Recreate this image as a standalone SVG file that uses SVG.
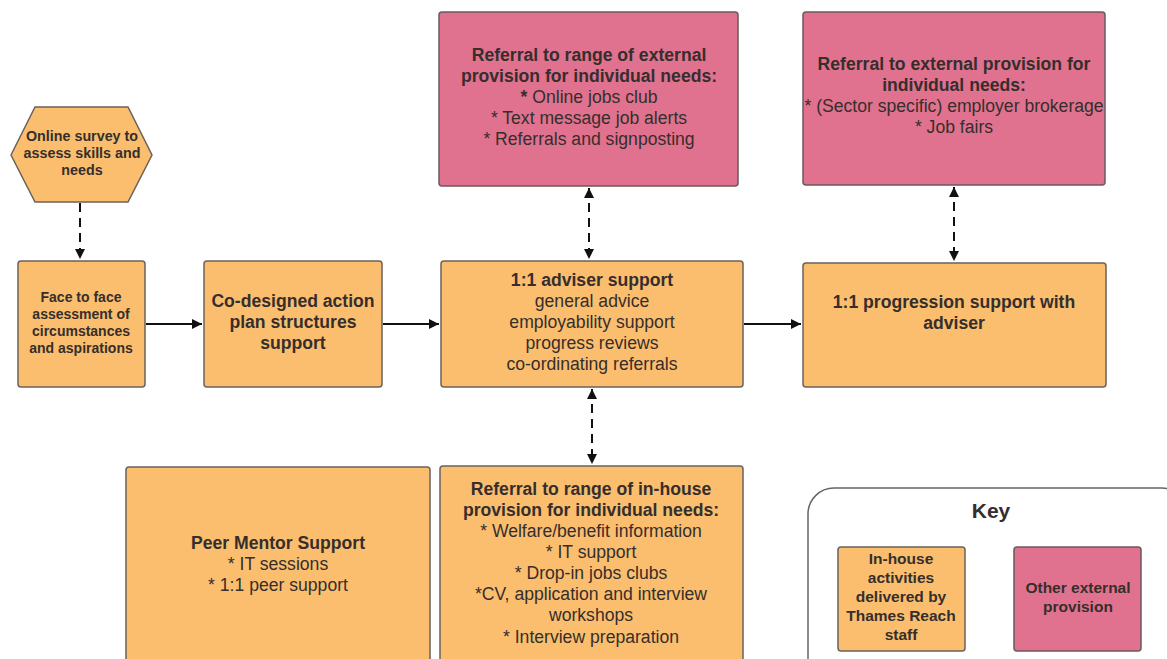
<svg xmlns="http://www.w3.org/2000/svg" width="1167" height="659" viewBox="0 0 1167 659">
<defs>
<style>
.or{fill:#FBBE6E;stroke:#6b6259;stroke-width:1.5}
.pk{fill:#E1728F;stroke:#6b5a5e;stroke-width:1.5}
text{font-family:"Liberation Sans",Arial,sans-serif;fill:#352e2c;text-anchor:middle}
.b{font-weight:bold}
.c{stroke:#111;stroke-width:2;fill:none}
.d{stroke-dasharray:9,6}
</style>
<marker id="ah2" viewBox="0 0 10 10" refX="10" refY="5" markerWidth="14" markerHeight="10" markerUnits="userSpaceOnUse" orient="auto-start-reverse">
<path d="M0,0 L10,5 L0,10 z" fill="#111"/>
</marker>
</defs>
<rect width="1167" height="659" fill="#fff"/>
<g id="connectors">
<line class="c d" x1="80" y1="203" x2="80" y2="259" marker-end="url(#ah2)"/>
<line class="c" x1="146" y1="324" x2="202" y2="324" marker-end="url(#ah2)"/>
<line class="c" x1="383" y1="324" x2="439" y2="324" marker-end="url(#ah2)"/>
<line class="c" x1="744" y1="324" x2="801" y2="324" marker-end="url(#ah2)"/>
<line class="c d" x1="589" y1="188" x2="589" y2="259" marker-start="url(#ah2)" marker-end="url(#ah2)"/>
<line class="c d" x1="954" y1="187" x2="954" y2="261" marker-start="url(#ah2)" marker-end="url(#ah2)"/>
<line class="c d" x1="592" y1="389" x2="592" y2="464" marker-start="url(#ah2)" marker-end="url(#ah2)"/>
</g>
<g id="survey">
<polygon class="or" points="11,155 35,107 128,107 152,155 128,202 35,202"/>
<text class="b" font-size="14.3"><tspan x="82" y="141">Online survey to</tspan><tspan x="82" y="158">assess skills and</tspan><tspan x="82" y="175">needs</tspan></text>
</g>
<g id="face">
<rect class="or" x="18" y="261" width="127" height="126" rx="3"/>
<text class="b" font-size="14"><tspan x="81" y="302">Face to face</tspan><tspan x="81" y="319">assessment of</tspan><tspan x="81" y="336">circumstances</tspan><tspan x="81" y="353">and aspirations</tspan></text>
</g>
<g id="codesigned">
<rect class="or" x="204" y="261" width="178" height="126" rx="3"/>
<text class="b" font-size="17.6"><tspan x="293" y="307">Co-designed action</tspan><tspan x="293" y="328">plan structures</tspan><tspan x="293" y="349">support</tspan></text>
</g>
<g id="adviser">
<rect class="or" x="441" y="261" width="302" height="126" rx="3"/>
<text font-size="17.6"><tspan class="b" x="592" y="286">1:1 adviser support</tspan><tspan x="592" y="307">general advice</tspan><tspan x="592" y="328">employability support</tspan><tspan x="592" y="349">progress reviews</tspan><tspan x="592" y="370">co-ordinating referrals</tspan></text>
</g>
<g id="progression">
<rect class="or" x="803" y="263" width="303" height="124" rx="3"/>
<text class="b" font-size="17.6"><tspan x="954" y="308">1:1 progression support with</tspan><tspan x="954" y="329">adviser</tspan></text>
</g>
<g id="external1">
<rect class="pk" x="439" y="12" width="299" height="174" rx="3"/>
<text font-size="17.6"><tspan class="b" x="589" y="61">Referral to range of external</tspan><tspan class="b" x="589" y="82">provision for individual needs:</tspan><tspan x="589" y="103"><tspan class="b">*</tspan> Online jobs club</tspan><tspan x="589" y="124">* Text message job alerts</tspan><tspan x="589" y="145">* Referrals and signposting</tspan></text>
</g>
<g id="external2">
<rect class="pk" x="803" y="12" width="302" height="173" rx="3"/>
<text font-size="17.6"><tspan class="b" x="954" y="70">Referral to external provision for</tspan><tspan class="b" x="954" y="91">individual needs:</tspan><tspan x="954" y="112">* (Sector specific) employer brokerage</tspan><tspan x="954" y="133">* Job fairs</tspan></text>
</g>
<g id="peer">
<rect class="or" x="126" y="467" width="304" height="200" rx="3"/>
<text font-size="17.6"><tspan class="b" x="278" y="549">Peer Mentor Support</tspan><tspan x="278" y="570">* IT sessions</tspan><tspan x="278" y="591">* 1:1 peer support</tspan></text>
</g>
<g id="inhouse">
<rect class="or" x="440" y="466" width="303" height="200" rx="3"/>
<text font-size="17.6"><tspan class="b" x="591" y="495">Referral to range of in-house</tspan><tspan class="b" x="591" y="516">provision for individual needs:</tspan><tspan x="591" y="537">* Welfare/benefit information</tspan><tspan x="591" y="558">* IT support</tspan><tspan x="591" y="579">* Drop-in jobs clubs</tspan><tspan x="591" y="600">*CV, application and interview</tspan><tspan x="591" y="621">workshops</tspan><tspan x="591" y="643">* Interview preparation</tspan></text>
</g>
<g id="key">
<rect x="808" y="488" width="380" height="200" rx="26" fill="#fff" stroke="#666" stroke-width="1.5"/>
<text class="b" font-size="21" x="991" y="518">Key</text>
<rect class="or" x="838" y="547" width="127" height="104" rx="3"/>
<text class="b" font-size="15.5"><tspan x="901" y="564">In-house</tspan><tspan x="901" y="583">activities</tspan><tspan x="901" y="602">delivered by</tspan><tspan x="901" y="621">Thames Reach</tspan><tspan x="901" y="640">staff</tspan></text>
<rect class="pk" x="1014" y="547" width="127" height="104" rx="3"/>
<text class="b" font-size="15.5"><tspan x="1078" y="593">Other external</tspan><tspan x="1078" y="612">provision</tspan></text>
</g>
</svg>
